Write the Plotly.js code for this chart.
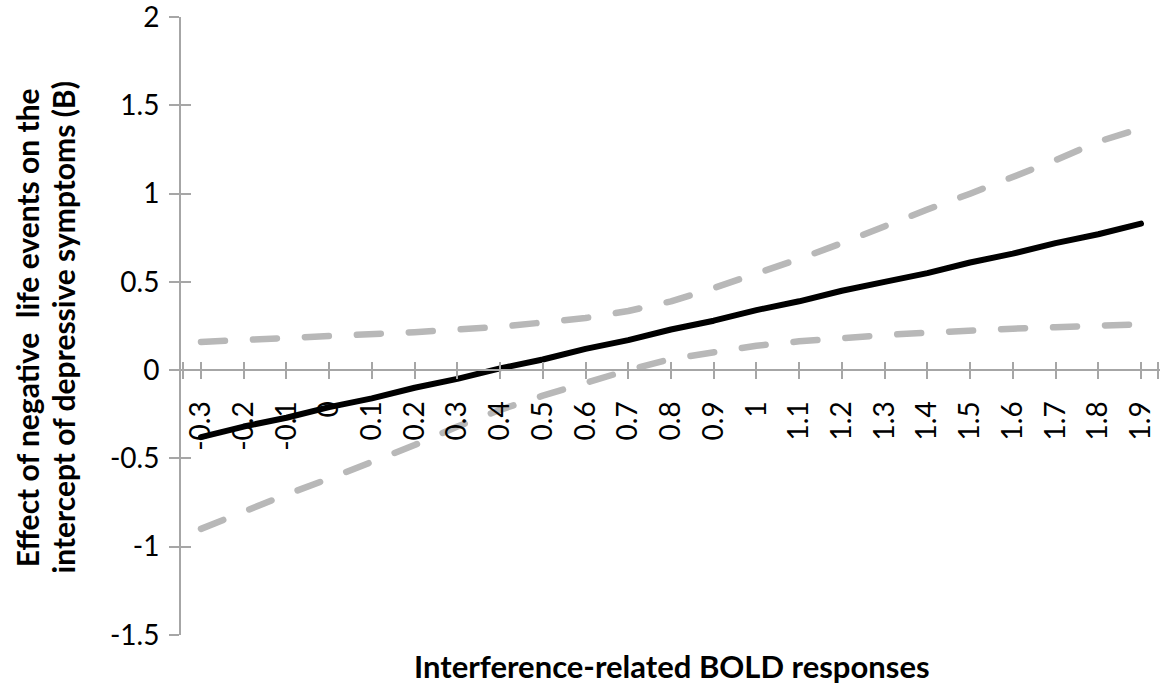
<!DOCTYPE html>
<html>
<head>
<meta charset="utf-8">
<script src="https://cdn.plot.ly/plotly-3.0.1.min.js"></script>
<style>
  html, body { margin: 0; padding: 0; background: #ffffff; }
  #chart { width: 1168px; height: 688px; }
  #chart .scatterlayer .js-line { stroke-linecap: round; stroke-linejoin: round; }
</style>
</head>
<body>
<div id="chart"></div>
<script>
// Categories (interference-related BOLD responses)
const boldX = [-0.3, -0.2, -0.1, 0.0, 0.1, 0.2, 0.3, 0.4, 0.5, 0.6, 0.7, 0.8, 0.9, 1.0, 1.1, 1.2, 1.3, 1.4, 1.5, 1.6, 1.7, 1.8, 1.9];
const xTickText = ["-0.3", "-0.2", "-0.1", "0", "0.1", "0.2", "0.3", "0.4", "0.5", "0.6", "0.7", "0.8", "0.9", "1", "1.1", "1.2", "1.3", "1.4", "1.5", "1.6", "1.7", "1.8", "1.9"];

// Effect estimate (B) and confidence bounds
const effectB = [-0.38, -0.32, -0.27, -0.21, -0.16, -0.10, -0.05, 0.01, 0.06, 0.12, 0.17, 0.23, 0.28, 0.34, 0.39, 0.45, 0.50, 0.55, 0.61, 0.66, 0.72, 0.77, 0.83];
const upperCI = [0.16, 0.17, 0.18, 0.19, 0.20, 0.215, 0.23, 0.245, 0.27, 0.295, 0.335, 0.39, 0.465, 0.545, 0.63, 0.72, 0.82, 0.91, 1.00, 1.095, 1.19, 1.295, 1.37];
const lowerCI = [-0.90, -0.80, -0.705, -0.615, -0.52, -0.425, -0.32, -0.225, -0.145, -0.07, 0.0, 0.063, 0.103, 0.138, 0.163, 0.185, 0.199, 0.212, 0.226, 0.235, 0.243, 0.253, 0.26];

// Y axis ticks
const yTickVals = [-1.5, -1, -0.5, 0, 0.5, 1, 1.5, 2];
const yTickText = ["-1.5", "-1", "-0.5", "0", "0.5", "1", "1.5", "2"];

const axisGray = '#a6a6a6';
const dashGray = '#b8b8b8';
const tickFont = { family: 'Lato, "Open Sans", sans-serif', size: 28, color: '#000000' };
const titleFont = { family: 'Lato, "Open Sans", sans-serif', size: 31, color: '#000000', weight: 'bold' };
const yTitleFont = { family: 'Lato, "Open Sans", sans-serif', size: 30, color: '#000000', weight: 'bold' };

const xRange = [-0.3468, 1.9445];
const yRange = [-1.5015, 2.0015];
const zeroPos = (0 - yRange[0]) / (yRange[1] - yRange[0]);

// cross ticks also at both ends of the category axis (no labels there)
const xCrossTicks = [xRange[0] + 0.004].concat(boldX, [xRange[1] - 0.004]);
const xCrossText = [''].concat(xTickText, ['']);

const traces = [
  { x: boldX, y: upperCI, type: 'scatter', mode: 'lines', name: 'Upper',
    line: { color: dashGray, width: 6.5, dash: '24px,28px' }, hoverinfo: 'skip' },
  { x: boldX, y: lowerCI, type: 'scatter', mode: 'lines', name: 'Lower',
    line: { color: dashGray, width: 6.5, dash: '24px,28px' }, hoverinfo: 'skip' },
  { x: boldX, y: effectB, type: 'scatter', mode: 'lines', name: 'B',
    line: { color: '#000000', width: 6 }, hoverinfo: 'skip' },
  // invisible helper trace to hold the secondary (cross-tick) axes
  { x: boldX, y: effectB, type: 'scatter', mode: 'lines', xaxis: 'x2', yaxis: 'y2',
    line: { color: 'rgba(0,0,0,0)', width: 0 }, hoverinfo: 'skip', showlegend: false }
];

const layout = {
  width: 1168, height: 688,
  margin: { l: 181, r: 8, t: 17, b: 53 },
  paper_bgcolor: '#ffffff', plot_bgcolor: '#ffffff',
  showlegend: false,
  xaxis: {
    type: 'linear', range: xRange, anchor: 'free', position: zeroPos,
    tickmode: 'array', tickvals: xCrossTicks, ticktext: xCrossText, tickangle: -90,
    ticks: 'outside', ticklen: 8, tickwidth: 2, tickcolor: axisGray,
    showline: true, linecolor: axisGray, linewidth: 2,
    showgrid: false, zeroline: false, tickfont: tickFont, ticklabelstandoff: 11,
    ticklabeloverflow: 'allow'
  },
  xaxis2: {
    type: 'linear', range: xRange, overlaying: 'x', anchor: 'free', position: zeroPos,
    tickmode: 'array', tickvals: xCrossTicks, ticks: 'inside', ticklen: 8, tickwidth: 2, tickcolor: axisGray,
    showticklabels: false, showline: false, showgrid: false, zeroline: false
  },
  yaxis: {
    range: yRange, tickmode: 'array', tickvals: yTickVals, ticktext: yTickText,
    ticks: 'outside', ticklen: 10, tickwidth: 2, tickcolor: axisGray,
    showline: true, linecolor: axisGray, linewidth: 2,
    showgrid: false, zeroline: false, tickfont: tickFont, ticklabelstandoff: 4,
    ticklabeloverflow: 'allow'
  },
  yaxis2: {
    range: yRange, overlaying: 'y', anchor: 'x',
    tickmode: 'array', tickvals: yTickVals, ticks: 'inside', ticklen: 10, tickwidth: 2, tickcolor: axisGray,
    showticklabels: false, showline: false, showgrid: false, zeroline: false
  },
  annotations: [
    { text: 'Interference-related BOLD responses', xref: 'paper', yref: 'paper',
      x: 0.5015, y: -0.05, xanchor: 'center', yanchor: 'middle', showarrow: false, font: titleFont },
    { text: 'Effect of negative  life events on the', xref: 'paper', yref: 'paper',
      x: -0.157, y: 0.497, xanchor: 'center', yanchor: 'middle', textangle: -90, showarrow: false, font: yTitleFont },
    { text: 'intercept of depressive symptoms (B)', xref: 'paper', yref: 'paper',
      x: -0.121, y: 0.497, xanchor: 'center', yanchor: 'middle', textangle: -90, showarrow: false, font: yTitleFont }
  ]
};

Plotly.newPlot('chart', traces, layout, { displayModeBar: false, staticPlot: true });
</script>
</body>
</html>
